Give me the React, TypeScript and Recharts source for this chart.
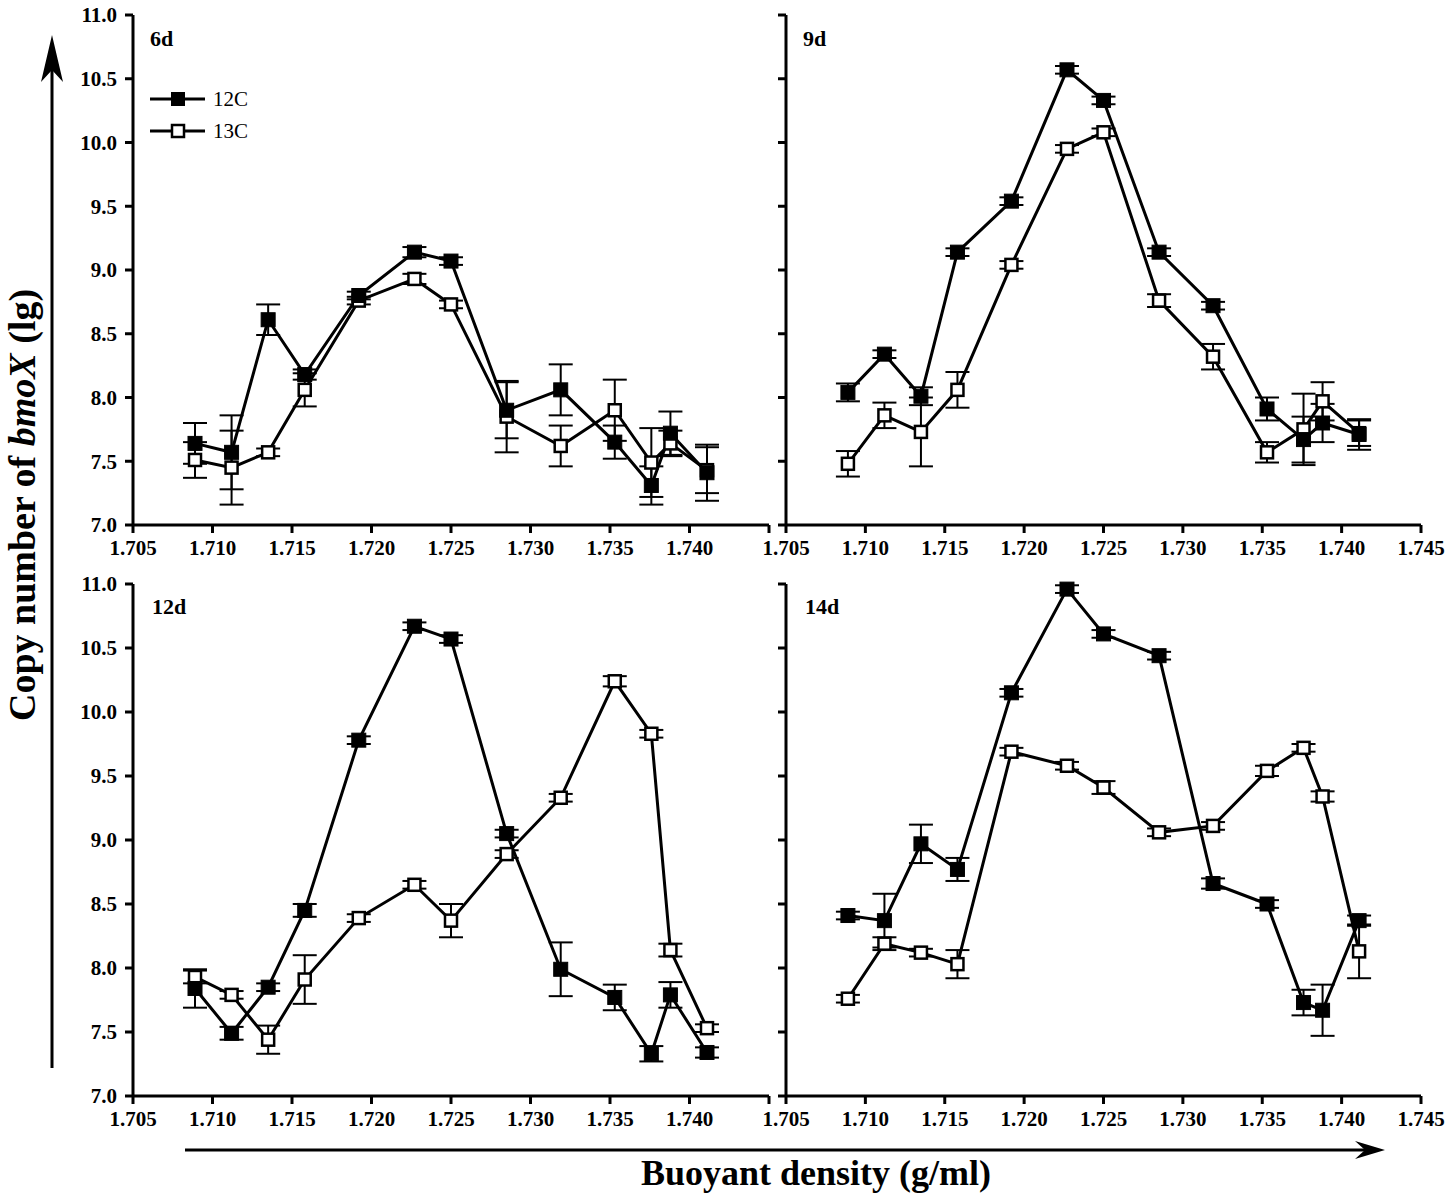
import { LineChart, Line, XAxis, YAxis, ErrorBar } from "recharts";

const FONT = '"Liberation Serif", "Times New Roman", serif';

// buoyant density of each fraction (g/ml)
const density = [1.7089, 1.7112, 1.7135, 1.7158, 1.7192, 1.7227, 1.725, 1.7285, 1.7319, 1.7353, 1.7376, 1.7388, 1.7411];

const xTicks = [1.705, 1.71, 1.715, 1.72, 1.725, 1.73, 1.735, 1.74, 1.745];
const yTicks = [7, 7.5, 8, 8.5, 9, 9.5, 10, 10.5, 11];

// 6d
const d6_12C = [7.64, 7.57, 8.61, 8.18, 8.8, 9.14, 9.07, 7.9, 8.06, 7.65, 7.31, 7.72, 7.41];
const d6_12C_err = [0.16, 0.29, 0.12, 0.04, 0.03, 0.04, 0.03, 0.22, 0.2, 0.13, 0.15, 0.17, 0.22];
const d6_13C = [7.51, 7.45, 7.57, 8.06, 8.76, 8.93, 8.73, 7.85, 7.62, 7.9, 7.49, 7.64, 7.43];
const d6_13C_err = [0.14, 0.29, 0.03, 0.13, 0.03, 0.04, 0.03, 0.28, 0.16, 0.24, 0.27, 0.1, 0.18];

// 9d
const d9_12C = [8.04, 8.34, 8.01, 9.14, 9.54, 10.57, 10.33, 9.14, 8.72, 7.91, 7.67, 7.8, 7.71];
const d9_12C_err = [0.07, 0.03, 0.07, 0.03, 0.03, 0.03, 0.03, 0.03, 0.03, 0.09, 0.18, 0.15, 0.12];
const d9_13C = [7.48, 7.86, 7.73, 8.06, 9.04, 9.95, 10.08, 8.76, 8.32, 7.57, 7.75, 7.97, 7.72];
const d9_13C_err = [0.1, 0.1, 0.27, 0.14, 0.03, 0.03, 0.03, 0.05, 0.1, 0.08, 0.28, 0.15, 0.1];

// 12d
const d12_12C = [7.84, 7.49, 7.85, 8.45, 9.78, 10.67, 10.57, 9.05, 7.99, 7.77, 7.33, 7.79, 7.34];
const d12_12C_err = [0.15, 0.05, 0.03, 0.05, 0.03, 0.03, 0.03, 0.03, 0.21, 0.1, 0.06, 0.1, 0.04];
const d12_13C = [7.93, 7.79, 7.44, 7.91, 8.39, 8.65, 8.37, 8.89, 9.33, 10.24, 9.83, 8.14, 7.53];
const d12_13C_err = [0.05, 0.03, 0.11, 0.19, 0.03, 0.03, 0.13, 0.03, 0.03, 0.04, 0.03, 0.05, 0.03];

// 14d
const d14_12C = [8.41, 8.37, 8.97, 8.77, 10.15, 10.96, 10.61, 10.44, 8.66, 8.5, 7.73, 7.67, 8.37];
const d14_12C_err = [0.03, 0.21, 0.15, 0.09, 0.03, 0.03, 0.03, 0.03, 0.04, 0.03, 0.1, 0.2, 0.04];
const d14_13C = [7.76, 8.19, 8.12, 8.03, 9.69, 9.58, 9.41, 9.06, 9.11, 9.54, 9.72, 9.34, 8.13];
const d14_13C_err = [0.03, 0.05, 0.03, 0.11, 0.03, 0.03, 0.05, 0.03, 0.03, 0.04, 0.03, 0.04, 0.21];

function rows(c12: number[], e12: number[], c13: number[], e13: number[]) {
  return density.map((x, i) => ({ x, c12: c12[i], e12: e12[i], c13: c13[i], e13: e13[i] }));
}

const squareDot = (filled: boolean) => (props: any) => {
  const { cx, cy, index } = props;
  const k = (filled ? "f" : "o") + index;
  if (cx == null || cy == null) return <g key={k} />;
  const s = filled ? 14 : 12;
  return (
    <rect
      key={k}
      x={cx - s / 2}
      y={cy - s / 2}
      width={s}
      height={s}
      fill={filled ? "#000" : "#fff"}
      stroke="#000"
      strokeWidth={filled ? 1 : 2.5}
    />
  );
};

const tickStyle = { fill: "#000", fontSize: 21, fontWeight: "bold", fontFamily: FONT };

function Panel(props: any) {
  const { left, top, width, height, margin, data, yLabels, hideLastX } = props;
  return (
    <div style={{ position: "absolute", left, top }}>
      <LineChart width={width} height={height} data={data} margin={margin}>
        <XAxis
          type="number"
          dataKey="x"
          domain={[1.705, 1.745]}
          ticks={xTicks}
          interval={0}
          height={40}
          stroke="#000"
          strokeWidth={3}
          tickSize={8}
          tickMargin={7}
          tick={tickStyle}
          tickFormatter={(v: number) => (hideLastX && v > 1.744 ? "" : v.toFixed(3))}
        />
        <YAxis
          type="number"
          domain={[7, 11]}
          ticks={yTicks}
          interval={0}
          width={60}
          stroke="#000"
          strokeWidth={3}
          tickSize={8}
          tickMargin={8}
          tick={tickStyle}
          tickFormatter={(v: number) => (yLabels ? v.toFixed(1) : "")}
        />
        <Line
          dataKey="c13"
          type="linear"
          stroke="#000"
          strokeWidth={3}
          dot={squareDot(false)}
          activeDot={false}
          isAnimationActive={false}
        >
          <ErrorBar dataKey="e13" width={12} strokeWidth={2} stroke="#000" direction="y" />
        </Line>
        <Line
          dataKey="c12"
          type="linear"
          stroke="#000"
          strokeWidth={3}
          dot={squareDot(true)}
          activeDot={false}
          isAnimationActive={false}
        >
          <ErrorBar dataKey="e12" width={12} strokeWidth={2} stroke="#000" direction="y" />
        </Line>
      </LineChart>
    </div>
  );
}

export default function App() {
  const leftMargin = { top: 15, right: 21, bottom: 5, left: 73 };
  const rightMargin = { top: 15, right: 33, bottom: 5, left: 26 };
  return (
    <div
      style={{
        position: "absolute",
        left: 0,
        top: 0,
        width: 1454,
        height: 1198,
        background: "#fff",
        fontFamily: FONT,
      }}
    >
      <Panel left={0} top={0} width={790} height={570} margin={leftMargin}
        data={rows(d6_12C, d6_12C_err, d6_13C, d6_13C_err)} yLabels hideLastX />
      <Panel left={700} top={0} width={754} height={570} margin={rightMargin}
        data={rows(d9_12C, d9_12C_err, d9_13C, d9_13C_err)} />
      <Panel left={0} top={569} width={790} height={572} margin={leftMargin}
        data={rows(d12_12C, d12_12C_err, d12_13C, d12_13C_err)} yLabels hideLastX />
      <Panel left={700} top={569} width={754} height={572} margin={rightMargin}
        data={rows(d14_12C, d14_12C_err, d14_13C, d14_13C_err)} />

      <svg
        width={1454}
        height={1198}
        style={{ position: "absolute", left: 0, top: 0, pointerEvents: "none" }}
        fontFamily={FONT}
      >
        {/* panel labels */}
        <text x={150} y={46} fontSize={22} fontWeight="bold">6d</text>
        <text x={803} y={46} fontSize={22} fontWeight="bold">9d</text>
        <text x={152} y={614} fontSize={22} fontWeight="bold">12d</text>
        <text x={805} y={614} fontSize={22} fontWeight="bold">14d</text>

        {/* legend */}
        <line x1={150} y1={99} x2={205} y2={99} stroke="#000" strokeWidth={3} />
        <rect x={171} y={92} width={14} height={14} fill="#000" />
        <text x={213} y={99} dy="0.35em" fontSize={21}>12C</text>
        <line x1={150} y1={131} x2={205} y2={131} stroke="#000" strokeWidth={3} />
        <rect x={172} y={125} width={12} height={12} fill="#fff" stroke="#000" strokeWidth={2.5} />
        <text x={213} y={131} dy="0.35em" fontSize={21}>13C</text>

        {/* y title and arrow */}
        <line x1={52} y1={1068} x2={52} y2={60} stroke="#000" strokeWidth={3} />
        <polygon points="52,35 63,82 52,70 41,82" fill="#000" />
        <text
          x={22}
          y={505}
          transform="rotate(-90 22 505)"
          textAnchor="middle"
          dy="0.35em"
          fontSize={38}
          fontWeight="bold"
        >
          Copy number of <tspan fontStyle="italic">bmoX</tspan> (lg)
        </text>

        {/* x title and arrow */}
        <line x1={185} y1={1150} x2={1365} y2={1150} stroke="#000" strokeWidth={3} />
        <polygon points="1385,1150 1355,1141 1365,1150 1355,1159" fill="#000" />
        <text x={816} y={1172} textAnchor="middle" dy="0.35em" fontSize={36} fontWeight="bold">
          Buoyant density (g/ml)
        </text>
      </svg>
    </div>
  );
}
